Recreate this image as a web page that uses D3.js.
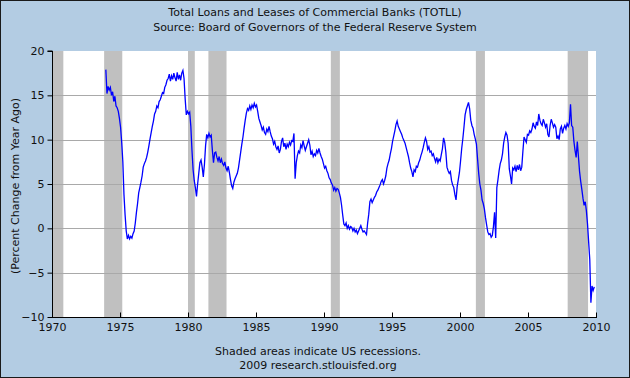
<!DOCTYPE html>
<html><head><meta charset="utf-8">
<script src="https://cdn.jsdelivr.net/npm/d3@7"></script>
<style>
body{margin:0;background:#fff}
svg{display:block}
text{font-family:"DejaVu Sans",Verdana,sans-serif;fill:#111}
</style>
</head><body>
<svg id="chart" width="630" height="378"></svg>
<script>
const titleLines = ["Total Loans and Leases of Commercial Banks (TOTLL)", "Source: Board of Governors of the Federal Reserve System"];
const footerLines = ["Shaded areas indicate US recessions.", "2009 research.stlouisfed.org"];
const yAxisLabel = "(Percent Change from Year Ago)";
const xTicks = [1970, 1975, 1980, 1985, 1990, 1995, 2000, 2005, 2010];
const yTicks = [-10, -5, 0, 5, 10, 15, 20];
const gridValues = [-5, 0, 5, 10, 15];
const recessionStarts = [1969.917, 1973.833, 1980.0, 1981.5, 1990.5, 2001.167, 2007.917];
const recessionEnds   = [1970.833, 1975.167, 1980.5, 1982.833, 1991.167, 2001.833, 2009.417];
const seriesStart = 1973 + 11 / 12; // Dec 1973, monthly observations
const monthlyValues = [
  17.9,
  15.2, 16.0, 15.6, 15.9, 15.0, 15.4, 14.3, 14.9, 13.8, 13.6, 13.2, 12.4,
  11.4, 9.7, 7.5, 3.8, 1.5, -0.3, -1.2, -0.8, -1.2, -0.9, -1.1, -0.6,
  -0.3, 0.6, 1.8, 2.8, 4.0, 4.6, 5.2, 5.9, 6.9, 7.3, 7.6, 8.0,
  8.6, 9.3, 10.1, 10.8, 11.5, 12.1, 12.9, 13.2, 13.8, 13.6, 14.3, 14.5,
  14.9, 15.3, 15.2, 15.9, 16.2, 16.7, 16.9, 17.4, 16.6, 17.2, 16.8, 17.5,
  17.0, 16.6, 17.6, 16.8, 17.3, 16.7, 17.5, 17.8, 16.9, 14.6, 12.8, 13.2,
  12.9, 13.1, 11.5, 8.8, 6.6, 5.4, 4.6, 3.6, 5.0, 6.2, 7.4, 7.7,
  6.9, 5.8, 7.2, 9.3, 10.6, 10.2, 10.7, 10.3, 10.5, 8.8, 7.4, 8.5,
  8.6, 8.0, 7.6, 8.1, 7.4, 7.8, 7.3, 7.1, 7.5, 6.8, 6.5, 7.0,
  6.3, 5.5, 4.8, 4.5, 5.2, 5.6, 5.9, 6.2, 6.8, 7.7, 8.6, 9.5,
  10.3, 11.3, 12.2, 13.0, 13.5, 13.3, 13.8, 13.4, 13.9, 13.6, 14.1, 13.7,
  13.9, 13.2, 12.4, 12.0, 11.6, 11.1, 11.4, 10.8, 10.6, 11.2, 10.9, 11.5,
  10.9, 10.4, 10.1, 9.5, 9.8, 9.2, 8.9, 9.3, 8.5, 8.9, 9.8, 10.2,
  9.2, 9.6, 8.9, 9.5, 9.2, 9.7, 9.4, 9.9, 9.8, 10.7, 5.6, 7.4,
  8.2, 8.7, 8.5, 9.4, 9.1, 9.9, 9.3, 8.8, 9.2, 9.6, 10.0, 9.4,
  8.3, 8.7, 8.1, 8.4, 8.2, 8.8, 8.5, 9.0, 8.5, 8.1, 7.8, 7.3,
  6.8, 7.0, 6.5, 6.2, 5.7, 5.5, 5.1, 4.9, 4.3, 4.6, 4.2, 4.5,
  4.4, 4.0, 3.5, 2.6, 1.5, 0.5, 0.3, 0.6, 0.0, 0.3, -0.1, 0.2,
  0.1, -0.3, 0.0, -0.4, -0.2, -0.6, -0.3, 0.0, 0.3, -0.1, -0.4, -0.3,
  -0.5, -0.7, 0.6, 1.6, 3.0, 3.3, 2.9, 3.2, 3.5, 3.7, 4.1, 4.3,
  4.6, 4.9, 5.3, 5.5, 5.0, 5.4, 5.9, 6.8, 7.3, 7.7, 8.4, 9.0,
  9.8, 10.4, 11.0, 11.7, 12.1, 11.5, 11.2, 10.9, 10.6, 10.2, 9.9, 9.6,
  9.1, 8.6, 8.1, 7.4, 6.8, 6.4, 5.8, 6.6, 6.4, 7.0, 6.9, 7.4,
  7.7, 8.2, 8.6, 9.1, 9.7, 10.2, 9.8, 8.9, 9.2, 8.6, 8.7, 8.2,
  8.4, 7.9, 7.5, 8.0, 7.4, 7.8, 7.6, 8.3, 9.0, 10.2, 9.7, 8.6,
  6.9, 6.5, 6.2, 6.4, 5.4, 4.9, 4.6, 3.8, 3.2, 4.7, 5.5, 6.3,
  7.6, 9.0, 10.1, 11.4, 12.8, 13.4, 13.8, 14.2, 13.5, 12.2, 11.6, 11.3,
  10.6, 10.1, 9.5, 7.8, 6.2, 5.0, 4.3, 3.2, 2.8, 2.2, 1.2, 0.4,
  -0.4, -0.7, -0.6, -1.0, -0.8, 0.2, 1.8, -1.1, 4.6, 5.5, 6.5, 7.3,
  7.7, 8.4, 9.6, 10.3, 10.8, 10.5, 9.6, 6.7, 5.9, 5.0, 6.8, 6.6,
  7.0, 6.4, 7.1, 6.6, 7.2, 6.5, 6.9, 8.7, 10.3, 10.0, 9.7, 10.6,
  10.5, 11.0, 10.8, 11.2, 11.9, 11.5, 11.3, 12.0, 11.6, 12.9, 12.2, 11.8,
  11.6, 12.3, 11.9, 11.4, 11.8, 10.6, 10.3, 11.6, 12.3, 11.9, 11.4, 11.7,
  11.4, 10.1, 10.4, 10.0, 11.2, 11.5, 10.7, 11.3, 11.6, 11.2, 11.8, 11.5,
  11.9, 14.0, 11.6, 11.4, 9.8, 8.8, 8.0, 9.8, 8.1, 6.4, 5.3, 4.4,
  3.4, 2.6, 3.0, 2.0, 0.5, -1.5, -3.5, -8.4, -6.5, -7.0, -6.6
];

const W = 630, H = 378;
const plot = {left: 52, right: 596, top: 51, bottom: 317};
const svg = d3.select("#chart");

svg.append("rect").attr("x", 0.5).attr("y", 0.5).attr("width", W - 1).attr("height", H - 1)
  .attr("fill", "#b3cce3").attr("stroke", "#1a1a1a").attr("stroke-width", 1);

const x = d3.scaleLinear().domain([1970, 2010]).range([plot.left, plot.right]);
const y = d3.scaleLinear().domain([-10, 20]).range([plot.bottom, plot.top]);

svg.append("rect").attr("x", plot.left).attr("y", plot.top)
  .attr("width", plot.right - plot.left).attr("height", plot.bottom - plot.top).attr("fill", "#fff");

const recessions = recessionStarts.map((s, i) => ({s: Math.max(s, 1970), e: recessionEnds[i]}));
svg.append("g").selectAll("rect").data(recessions).join("rect")
  .attr("x", d => x(d.s)).attr("y", plot.top)
  .attr("width", d => x(d.e) - x(d.s)).attr("height", plot.bottom - plot.top)
  .attr("fill", "#c0c0c0");

svg.append("g").selectAll("line").data(gridValues).join("line")
  .attr("x1", plot.left).attr("x2", plot.right)
  .attr("y1", d => Math.round(y(d)) + 0.5).attr("y2", d => Math.round(y(d)) + 0.5)
  .attr("stroke", "#a9a9a9").attr("stroke-width", 1);

const series = monthlyValues.map((v, i) => ({t: seriesStart + i / 12 + 1 / 24, v}));
const line = d3.line().x(d => x(d.t)).y(d => y(d.v));
svg.append("path").datum(series).attr("d", line)
  .attr("fill", "none").attr("stroke", "#0000ff").attr("stroke-width", 1.3).attr("stroke-linejoin", "miter");

// Y axis
const yAxis = d3.axisLeft(y).tickValues(yTicks).tickSize(5).tickPadding(3).tickFormat(d3.format("d"));
const gy = svg.append("g").attr("transform", `translate(${plot.left + 0.5},0)`).call(yAxis);
gy.select(".domain").attr("stroke", "#000").attr("d", `M-5,${plot.top}H0V${plot.bottom}`);
gy.selectAll(".tick line").attr("stroke", "#000");
gy.selectAll("text").attr("font-size", 11).attr("font-family", "DejaVu Sans").attr("fill", "#111");

// X axis
const xAxis = d3.axisBottom(x).tickValues(xTicks).tickSize(0).tickPadding(6).tickFormat(d3.format("d"));
const gx = svg.append("g").attr("transform", `translate(0,${plot.bottom + 0.5})`).call(xAxis);
gx.select(".domain").attr("stroke", "#000").attr("d", `M${plot.left},0H${plot.right + 1}`);
gx.selectAll(".tick").append("line").attr("y1", 0).attr("y2", -5).attr("stroke", "#000");
gx.selectAll("text").attr("font-size", 11).attr("font-family", "DejaVu Sans").attr("fill", "#111");

// Titles
svg.append("g").selectAll("text").data(titleLines).join("text")
  .attr("x", 315).attr("y", (d, i) => 16 + i * 15)
  .attr("text-anchor", "middle").attr("font-size", 11).text(d => d);

svg.append("g").selectAll("text").data(footerLines).join("text")
  .attr("x", 318).attr("y", (d, i) => 355 + i * 14)
  .attr("text-anchor", "middle").attr("font-size", 11).text(d => d);

svg.append("text").attr("transform", `translate(19,${(plot.top + plot.bottom) / 2 + 2}) rotate(-90)`)
  .attr("text-anchor", "middle").attr("font-size", 11).text(yAxisLabel);
</script>
</body></html>
